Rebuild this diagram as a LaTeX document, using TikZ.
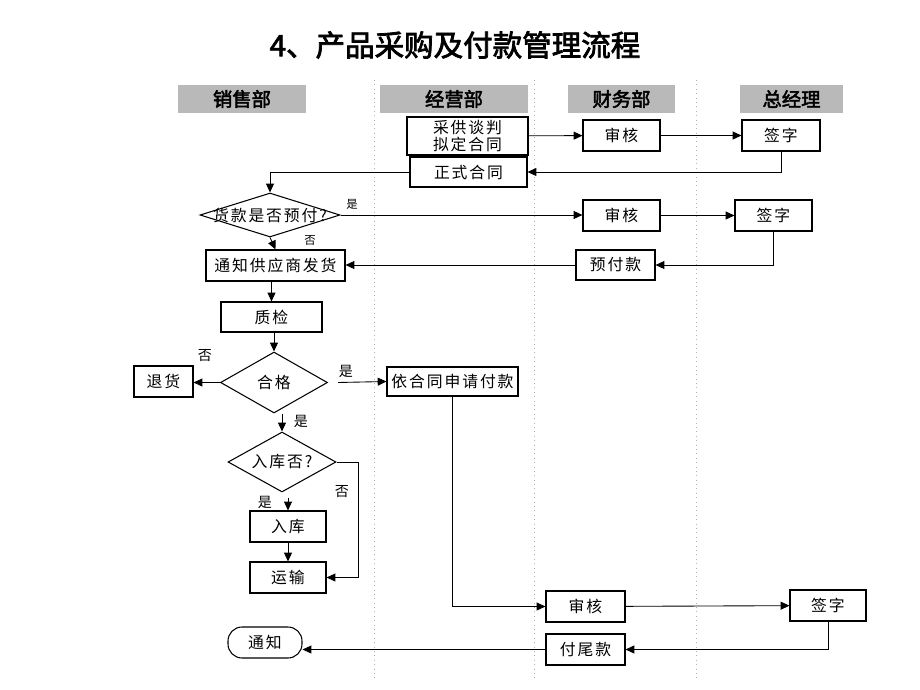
\documentclass[tikz,border=0pt]{standalone}
\usepackage{fontspec}
\setmainfont{Noto Sans CJK SC}[AutoFakeBold=2.5]
\newfontfamily\boxfont{Noto Sans CJK SC}[LetterSpace=12]
\usepackage{xcolor}
\usetikzlibrary{shapes,arrows,positioning,calc,arrows.meta}

\tikzset{
    proc/.style={draw, line width=0.6pt, inner sep=0pt, minimum height=0.62cm, font=\boxfont\fontsize{9}{10}\selectfont},
    dec/.style={draw, diamond, line width=0.6pt, inner sep=0pt},
    dtext/.style={inner sep=0pt, font=\boxfont\fontsize{9}{10}\selectfont},
    lanehead/.style={fill=gray!55, inner sep=0pt, minimum height=0.58cm, font=\fontsize{11}{12}\selectfont\bfseries},
    flow/.style={-{Triangle[length=5pt,width=4.5pt]}, line width=0.5pt},
    yn/.style={inner sep=0pt, font=\fontsize{8}{9}\selectfont},
    lanesep/.style={gray!60, dotted, line width=0.5pt}
}

\begin{document}
\begin{tikzpicture}[x=0.02cm,y=-0.02cm]
    \useasboundingbox (0,0) rectangle (920,690);

    % Title
    \node[font=\fontsize{16.8}{18}\selectfont\bfseries] (title) at (455,45) {4、产品采购及付款管理流程};

    % Lanes
    \draw[lanesep] (374,80) -- (374,680);
    \draw[lanesep] (534,80) -- (534,680);
    \draw[lanesep] (696,80) -- (696,680);
    \node[lanehead, minimum width=2.58cm] (sales) at (242,99) {销售部};
    \node[lanehead, minimum width=2.96cm] (oper) at (454,99) {经营部};
    \node[lanehead, minimum width=2.14cm] (fin) at (621.5,99) {财务部};
    \node[lanehead, minimum width=2.06cm] (gm) at (791.5,99) {总经理};

    % Contract
    \node[proc, minimum width=2.42cm, minimum height=0.76cm, align=center,
          font=\boxfont\fontsize{9}{9.6}\selectfont] (nego) at (467.5,136) {采供谈判\\拟定合同};
    \node[proc, minimum width=1.54cm] (chk1) at (621.5,135.5) {审核};
    \node[proc, minimum width=1.56cm] (sign1) at (781,135.5) {签字};
    \node[proc, minimum width=2.34cm, minimum height=0.6cm] (formal) at (468.5,172) {正式合同};
    \draw[flow] (nego) -- (chk1);
    \draw[flow] (chk1) -- (sign1);
    \draw[flow] (sign1.south) |- (formal.east);

    % Prepayment
    \node[dec, minimum width=2.8cm, minimum height=0.88cm] (prepay) at (270,215) {};
    \node[dtext] (prepayt) at (prepay) {货款是否预付?};
    \draw[flow] (formal.west) -| (prepay.north);
    \node[proc, minimum width=1.54cm] (chk2) at (621.5,215.5) {审核};
    \node[proc, minimum width=1.54cm] (sign2) at (773.5,215.5) {签字};
    \node[proc, minimum width=1.58cm, minimum height=0.6cm] (adv) at (615.5,265) {预付款};
    \node[proc, minimum width=2.78cm] (notify) at (275.5,265.5) {通知供应商发货};
    \draw[flow] (prepay.east) -- (prepay.east -| chk2.west);
    \node[yn, font=\fontsize{6.5}{7}\selectfont] (yes1) at (352,204) {是};
    \draw[flow] (chk2) -- (sign2);
    \draw[flow] (sign2.south) |- (adv.east);
    \draw[flow] (adv.west) -- (adv.west -| notify.east);
    \draw[flow] (prepay.south) -- (notify.north);
    \node[yn, font=\fontsize{6.5}{7}\selectfont] (no1) at (310,240) {否};

    % Inspection
    \node[proc, minimum width=2.02cm, minimum height=0.6cm] (insp) at (271.5,317) {质检};
    \draw[flow] (notify.south -| insp.north) -- (insp.north);
    \node[dec, minimum width=2.14cm, minimum height=1.22cm] (pass) at (274,382.5) {};
    \node[dtext] (passt) at (pass) {合格};
    \draw[flow] (insp.south -| pass.north) -- (pass.north);
    \node[proc, minimum width=1.18cm] (ret) at (163.5,381.5) {退货};
    \draw[flow] (pass.west) -- (pass.west -| ret.east);
    \node[yn] (no2) at (205,356) {否};
    \node[proc, minimum width=2.62cm, minimum height=0.58cm] (apply) at (452.5,381.5) {依合同申请付款};
    \draw[flow] ($(pass.east)+(10,0)$) -- (apply.west);
    \node[yn] (yes2) at (346,371) {是};

    % Storage
    \node[dec, minimum width=2.16cm, minimum height=1.2cm] (store) at (282,462) {};
    \node[dtext] (storet) at (store) {入库否?};
    \draw[flow] (store.north |- pass.south) -- (store.north);
    \node[yn] (yes3) at (301,421) {是};
    \node[proc, minimum width=1.52cm] (stock) at (288,526.5) {入库};
    \node[proc, minimum width=1.52cm] (ship) at (288,577.5) {运输};
    \draw[flow] ($(store.south -| stock.north)+(0,5)$) -- (stock.north);
    \node[yn] (yes4) at (265,502) {是};
    \draw[flow] (stock) -- (ship);
    \draw[flow] (store.east) -- ++(22,0) |- (ship.east);
    \node[yn] (no3) at (342,492) {否};

    % Final payment
    \node[proc, minimum width=1.58cm] (chk3) at (585.5,606.5) {审核};
    \node[proc, minimum width=1.52cm] (sign3) at (828,605.5) {签字};
    \node[proc, minimum width=1.58cm] (rest) at (585.5,649.5) {付尾款};
    \node[proc, rounded corners=0.28cm, minimum width=1.48cm] (done) at (265,642.5) {通知};
    \draw[flow] (apply.south) |- (chk3.west);
    \draw[flow] (chk3) -- (sign3);
    \draw[flow] (sign3.south) |- (rest.east);
    \draw[flow] (rest.west) -- (rest.west -| done.east);

\end{tikzpicture}
\end{document}
